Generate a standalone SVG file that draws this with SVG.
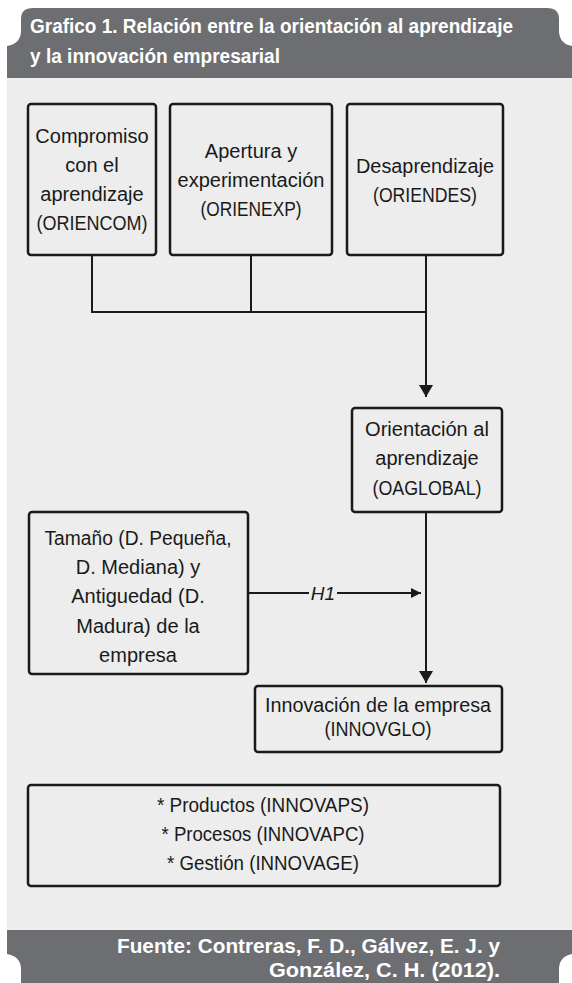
<svg xmlns="http://www.w3.org/2000/svg" width="572" height="983" viewBox="0 0 572 983">
<style>
.box{fill:none;stroke:#1a1a1a;stroke-width:2.5}
.t{font-family:"Liberation Sans",Arial,sans-serif;font-size:20px;fill:#1a1a1a;text-anchor:middle}
.hd{font-family:"Liberation Sans",Arial,sans-serif;font-weight:bold;font-size:21px;fill:#ffffff}
.ln{fill:none;stroke:#1a1a1a;stroke-width:2}
</style>
<defs>
<marker id="ah" markerWidth="12" markerHeight="14" refX="12" refY="7" orient="auto" markerUnits="userSpaceOnUse">
<path d="M0,0 L12,7 L0,14 Z" fill="#1a1a1a"/>
</marker>
<marker id="ahs" markerWidth="10" markerHeight="10" refX="10" refY="5" orient="auto" markerUnits="userSpaceOnUse">
<path d="M0,0 L10,5 L0,10 Z" fill="#1a1a1a"/>
</marker>
</defs>
<rect x="0" y="0" width="572" height="983" fill="#ffffff"/>
<rect x="7" y="78" width="565" height="852" fill="#ecedec"/>
<g id="header">
<path d="M7,46 Q20,44 21,32 L21,19 Q21,8 33,8 L547,8 Q559,8 559,19 L559,32 Q560,44 572,46 L572,78 L7,78 Z" fill="#6d6e71"/>
<text class="hd" x="30" y="33" textLength="483" lengthAdjust="spacingAndGlyphs">Grafico 1. Relación entre la orientación al aprendizaje</text>
<text class="hd" x="30" y="63" textLength="250" lengthAdjust="spacingAndGlyphs">y la innovación empresarial</text>
</g>
<g id="footer">
<path d="M7,930 L572,930 L572,954 Q560,956 559,968 L559,983 L21,983 L21,968 Q20,956 7,954 Z" fill="#6d6e71"/>
<text class="hd" x="500" y="953" text-anchor="end" textLength="383" lengthAdjust="spacingAndGlyphs">Fuente: Contreras, F. D., Gálvez, E. J. y</text>
<text class="hd" x="500" y="977" text-anchor="end" textLength="231" lengthAdjust="spacingAndGlyphs">González, C. H. (2012).</text>
</g>
<g id="connectors">
<path class="ln" d="M92,255 L92,312 L426,312"/>
<path class="ln" d="M251,255 L251,312"/>
<path class="ln" d="M426,255 L426,397" marker-end="url(#ah)"/>
<path class="ln" d="M426,512 L426,683" marker-end="url(#ah)"/>
<path class="ln" d="M248,593 L309,593"/>
<path class="ln" d="M337,593 L421,593" marker-end="url(#ahs)"/>
<text x="323" y="600" font-family="'Liberation Sans',Arial,sans-serif" font-style="italic" font-size="19" fill="#1a1a1a" text-anchor="middle">H1</text>
</g>
<g id="oriencom">
<rect class="box" x="28" y="104" width="128" height="151" rx="3"/>
<text class="t" x="92" y="143">Compromiso</text>
<text class="t" x="92" y="172">con el</text>
<text class="t" x="92" y="201">aprendizaje</text>
<text class="t" x="92" y="230" textLength="111" lengthAdjust="spacingAndGlyphs">(ORIENCOM)</text>
</g>
<g id="orienexp">
<rect class="box" x="170" y="104" width="162" height="151" rx="3"/>
<text class="t" x="251" y="158">Apertura y</text>
<text class="t" x="251" y="187" textLength="147" lengthAdjust="spacingAndGlyphs">experimentación</text>
<text class="t" x="251" y="216" textLength="101" lengthAdjust="spacingAndGlyphs">(ORIENEXP)</text>
</g>
<g id="oriendes">
<rect class="box" x="347" y="104" width="156" height="151" rx="3"/>
<text class="t" x="425" y="173" textLength="138" lengthAdjust="spacingAndGlyphs">Desaprendizaje</text>
<text class="t" x="425" y="202" textLength="104" lengthAdjust="spacingAndGlyphs">(ORIENDES)</text>
</g>
<g id="oaglobal">
<rect class="box" x="352" y="408" width="150" height="104" rx="3"/>
<text class="t" x="427" y="436" textLength="124" lengthAdjust="spacingAndGlyphs">Orientación al</text>
<text class="t" x="427" y="465">aprendizaje</text>
<text class="t" x="427" y="495" textLength="109" lengthAdjust="spacingAndGlyphs">(OAGLOBAL)</text>
</g>
<g id="tamano">
<rect class="box" x="29" y="512" width="219" height="162" rx="3"/>
<text class="t" x="138" y="545" textLength="187" lengthAdjust="spacingAndGlyphs">Tamaño (D. Pequeña,</text>
<text class="t" x="138" y="574">D. Mediana) y</text>
<text class="t" x="138" y="603">Antiguedad (D.</text>
<text class="t" x="138" y="633">Madura) de la</text>
<text class="t" x="138" y="662">empresa</text>
</g>
<g id="innovglo">
<rect class="box" x="255" y="686" width="247" height="66" rx="3"/>
<text class="t" x="378" y="712" textLength="226" lengthAdjust="spacingAndGlyphs">Innovación de la empresa</text>
<text class="t" x="378" y="736" textLength="107" lengthAdjust="spacingAndGlyphs">(INNOVGLO)</text>
</g>
<g id="dimensiones">
<rect class="box" x="28" y="785" width="472" height="101" rx="3"/>
<text class="t" x="263" y="812" textLength="212" lengthAdjust="spacingAndGlyphs">* Productos (INNOVAPS)</text>
<text class="t" x="263" y="841" textLength="203" lengthAdjust="spacingAndGlyphs">* Procesos (INNOVAPC)</text>
<text class="t" x="263" y="870" textLength="192" lengthAdjust="spacingAndGlyphs">* Gestión (INNOVAGE)</text>
</g>
</svg>
